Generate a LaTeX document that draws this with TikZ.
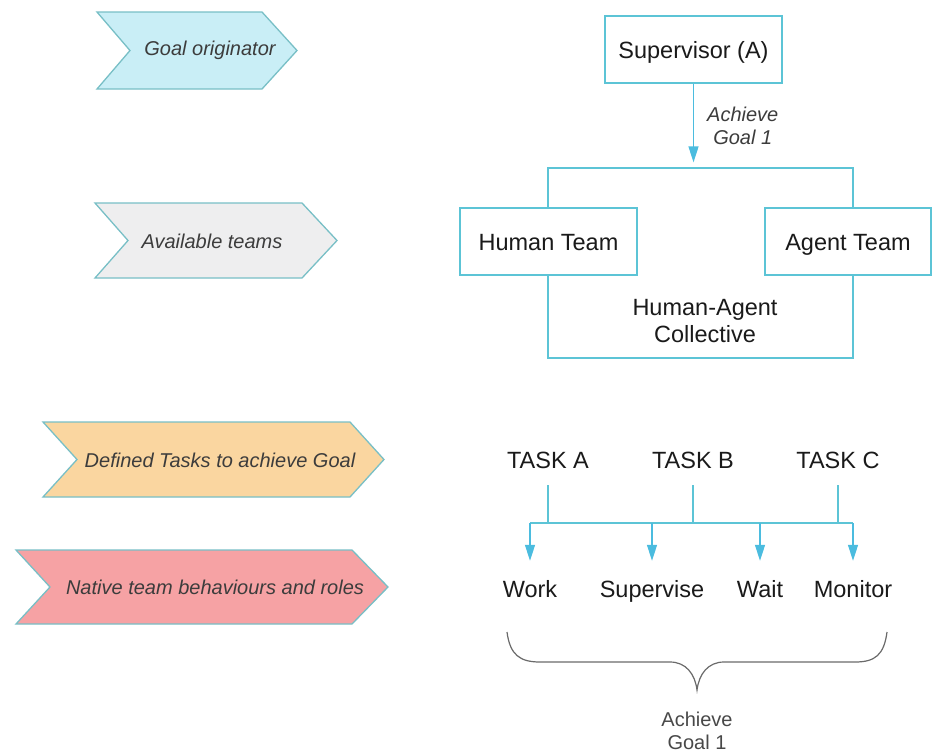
\documentclass[tikz,border=0pt]{standalone}
\usepackage{fontspec}
\setmainfont{Liberation Sans}
\usetikzlibrary{arrows.meta}
\definecolor{linec}{HTML}{5CC4D6}
\definecolor{arrc}{HTML}{4BBCDF}
\definecolor{chevb}{HTML}{78BFC6}
\definecolor{cyanf}{HTML}{C9EEF6}
\definecolor{grayf}{HTML}{EEEEEF}
\definecolor{orangef}{HTML}{FAD6A0}
\definecolor{pinkf}{HTML}{F6A2A4}
\definecolor{txt}{HTML}{1A1A1A}
\definecolor{bracec}{HTML}{6A6A6A}
\begin{document}
\begin{tikzpicture}[x=1pt,y=-1pt,
  chev/.style={draw=chevb, line width=1.3pt, line join=miter},
  chevtext/.style={font=\fontsize{20}{23}\selectfont\itshape, text=txt!85, inner sep=0pt},
  box/.style={draw=linec, line width=1.3pt, fill=white, inner sep=0pt, font=\fontsize{23.5}{27}\selectfont, text=txt, text height=17pt, text depth=0pt},
  plain/.style={font=\fontsize{23.5}{27}\selectfont, text=txt, inner sep=0pt, text height=17pt, text depth=0pt},
  conn/.style={draw=linec, line width=1.3pt},
  arr/.style={draw=arrc, line width=1.3pt, -{Triangle[length=16pt,width=10pt]}, arrc}
]
\useasboundingbox (0,0) rectangle (933,753);

% chevrons
\path[chev, fill=cyanf] (97,12) -- (262,12) -- (297,50.5) -- (262,89) -- (97,89) -- (130,50.5) -- cycle;
\node[chevtext] (c1) at (210,50) {Goal originator};
\path[chev, fill=grayf] (95,203) -- (302,203) -- (337,240.5) -- (302,278) -- (95,278) -- (128,240.5) -- cycle;
\node[chevtext] (c2) at (212,241) {Available teams};
\path[chev, fill=orangef] (43,422) -- (350,422) -- (384,459.5) -- (350,497) -- (43,497) -- (77,459.5) -- cycle;
\node[chevtext] (c3) at (220,460) {Defined Tasks to achieve Goal};
\path[chev, fill=pinkf] (16,550) -- (352,550) -- (388,587) -- (352,624) -- (16,624) -- (50,587) -- cycle;
\node[chevtext] (c4) at (215,587) {Native team behaviours and roles};

% top structure
\node[box, minimum width=177pt, minimum height=67pt] (sup) at (693.5,49.5) {Supervisor (A)};
\node[draw=linec, line width=1.3pt, minimum width=305pt, minimum height=190pt, inner sep=0pt] (coll) at (700.5,263) {};
\node[align=center, font=\fontsize{23.5}{27}\selectfont, text=txt, inner sep=0pt] (colllab) at (705,321) {Human-Agent\\Collective};
\node[box, minimum width=177pt, minimum height=67pt] (human) at (548.5,241.5) {Human Team};
\node[box, minimum width=166pt, minimum height=67pt] (agent) at (848,241.5) {Agent Team};
\draw[arr, shorten >=5pt] (sup.south) -- (sup.south |- coll.north)
  node[midway, right=13pt, align=center, font=\fontsize{20}{23}\selectfont\itshape, text=txt!85, inner sep=0pt] (lab1) {Achieve\\Goal 1};

% tasks
\node[plain, minimum height=50pt] (ta) at (548,460) {TASK A};
\node[plain, minimum height=50pt] (tb) at (693,460) {TASK B};
\node[plain, minimum height=50pt] (tc) at (838,460) {TASK C};
\node[plain, minimum height=56pt] (work) at (530,589) {Work};
\node[plain, minimum height=56pt] (supv) at (652,589) {Supervise};
\node[plain, minimum height=56pt] (wait) at (760,589) {Wait};
\node[plain, minimum height=56pt] (mon) at (853,589) {Monitor};
\coordinate (busL) at (530,523);
\coordinate (busR) at (853,523);
\draw[conn] (ta.south) -- (ta.south |- busL);
\draw[conn] (tb.south) -- (tb.south |- busL);
\draw[conn] (tc.south) -- (tc.south |- busL);
\draw[conn] (busL) -- (busR);
\draw[arr] (busL) -- (work.north);
\draw[arr] (supv.north |- busL) -- (supv.north);
\draw[arr] (wait.north |- busL) -- (wait.north);
\draw[arr] (busR) -- (mon.north);

% brace
\draw[bracec, line width=1.2pt] (507,632) .. controls (510,655) and (520,662) .. (540,662) -- (670,662)
  .. controls (686,662) and (695,674) .. (697,690) .. controls (699,674) and (708,662) .. (724,662)
  -- (855,662) .. controls (875,662) and (884,655) .. (887,632);
\node[align=center, font=\fontsize{20}{23}\selectfont, text=txt!80, inner sep=0pt] (goal) at (697,731) {Achieve\\Goal 1};
\end{tikzpicture}
\end{document}
